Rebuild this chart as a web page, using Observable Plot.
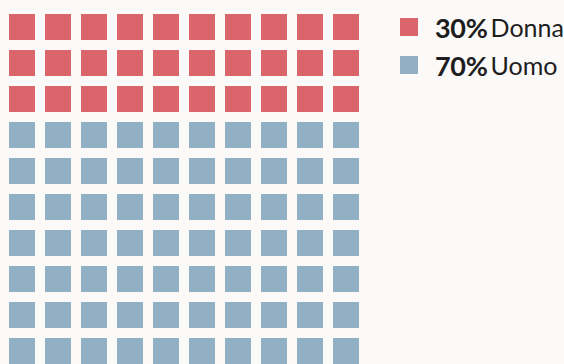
<!DOCTYPE html>
<html>
<head>
<meta charset="utf-8">
<script src="https://cdn.jsdelivr.net/npm/d3@7"></script>
<script src="https://cdn.jsdelivr.net/npm/@observablehq/plot@0.6"></script>
<style>
  html, body { margin: 0; padding: 0; background: #fcf9f9; overflow: hidden; width: 564px; height: 364px; }
  #wrap { position: relative; width: 564px; height: 364px; }
  #chart { position: absolute; left: 0; top: 0; }
  #legend { position: absolute; left: 400px; top: 8px; font-family: Lato, "Open Sans", sans-serif; color: #1e1e1e; }
  .item { display: flex; align-items: center; height: 38px; }
  .sw { width: 18px; height: 18px; margin-right: 17px; }
  .pct { font-weight: 700; font-size: 27px; letter-spacing: -0.3px; }
  .lab { font-weight: 400; font-size: 25px; margin-left: 3px; }
</style>
</head>
<body>
<div id="wrap">
  <div id="chart"></div>
  <div id="legend"></div>
</div>
<script>
const categories = ["Donna", "Uomo"];
const values = [30, 70];
const colors = ["#da666c", "#92b0c3"];
const columns = 10;

// build one cell per unit, from the values above
const cells = [];
categories.forEach((c, k) => {
  for (let j = 0; j < values[k]; j++) cells.push({category: c});
});
cells.forEach((d, i) => { d.col = i % columns; d.row = Math.floor(i / columns); });

const plot = Plot.plot({
  width: 380,
  height: 380,
  marginLeft: 7,
  marginRight: 18,
  marginTop: 12,
  marginBottom: 13,
  style: {background: "transparent"},
  x: {type: "band", domain: d3.range(columns), paddingInner: 0.274, paddingOuter: 0, axis: null},
  y: {type: "band", domain: d3.range(10), paddingInner: 0.274, paddingOuter: 0, axis: null},
  color: {domain: categories, range: colors},
  marks: [
    Plot.cell(cells, {x: "col", y: "row", fill: "category", inset: 0})
  ]
});
document.getElementById("chart").appendChild(plot);

const legend = document.getElementById("legend");
categories.forEach((c, k) => {
  const item = document.createElement("div");
  item.className = "item";
  item.innerHTML = `<span class="sw" style="background:${colors[k]}"></span><span class="pct">${values[k]}%</span><span class="lab">${c}</span>`;
  legend.appendChild(item);
});
</script>
</body>
</html>
